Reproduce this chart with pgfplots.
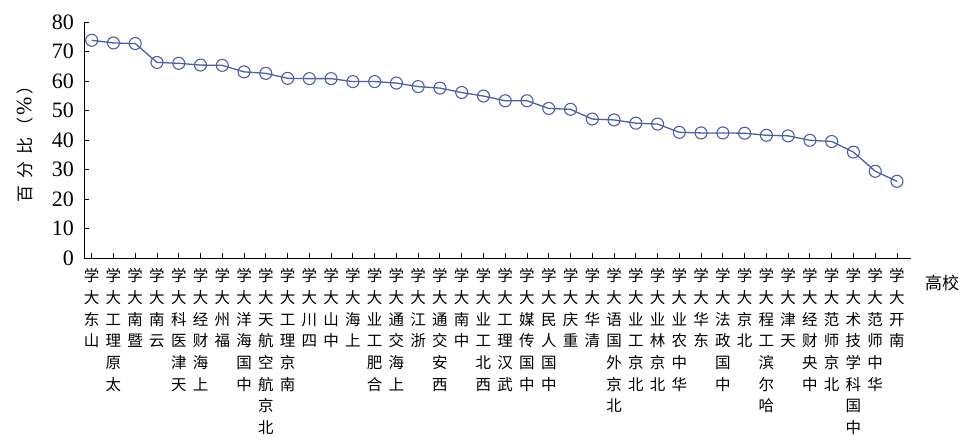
\documentclass[border=0pt]{standalone}
\usepackage{fontspec}
\setmainfont{Liberation Serif}
\newfontfamily\cjk{Noto Sans CJK SC}
\usepackage{pgfplots}
\pgfplotsset{compat=1.18}
\usetikzlibrary{calc}
\definecolor{lineblue}{RGB}{76,94,168}
\begin{document}
\begin{tikzpicture}
\begin{axis}[
  scale only axis,
  width=826.4pt, height=236pt,
  xmin=-0.34, xmax=37.63,
  ymin=0, ymax=80,
  axis lines=left,
  axis line style={-, line width=1pt, black},
  tick align=inside,
  major tick length=5pt,
  tick style={black, line width=0.9pt},
  ytick={0,10,...,80},
  xtick={0,...,37},
  xticklabels={
    {学\\大\\东\\山},
    {学\\大\\工\\理\\原\\太},
    {学\\大\\南\\暨},
    {学\\大\\南\\云},
    {学\\大\\科\\医\\津\\天},
    {学\\大\\经\\财\\海\\上},
    {学\\大\\州\\福},
    {学\\大\\洋\\海\\国\\中},
    {学\\大\\天\\航\\空\\航\\京\\北},
    {学\\大\\工\\理\\京\\南},
    {学\\大\\川\\四},
    {学\\大\\山\\中},
    {学\\大\\海\\上},
    {学\\大\\业\\工\\肥\\合},
    {学\\大\\通\\交\\海\\上},
    {学\\大\\江\\浙},
    {学\\大\\通\\交\\安\\西},
    {学\\大\\南\\中},
    {学\\大\\业\\工\\北\\西},
    {学\\大\\工\\理\\汉\\武},
    {学\\大\\媒\\传\\国\\中},
    {学\\大\\民\\人\\国\\中},
    {学\\大\\庆\\重},
    {学\\大\\华\\清},
    {学\\大\\语\\国\\外\\京\\北},
    {学\\大\\业\\工\\京\\北},
    {学\\大\\业\\林\\京\\北},
    {学\\大\\业\\农\\中\\华},
    {学\\大\\华\\东},
    {学\\大\\法\\政\\国\\中},
    {学\\大\\京\\北},
    {学\\大\\程\\工\\滨\\尔\\哈},
    {学\\大\\津\\天},
    {学\\大\\经\\财\\央\\中},
    {学\\大\\范\\师\\京\\北},
    {学\\大\\术\\技\\学\\科\\国\\中},
    {学\\大\\范\\师\\中\\华},
    {学\\大\\开\\南}},
  xticklabel style={align=center, anchor=north, font=\cjk\fontsize{15.5}{21.7}\selectfont, yshift=-7pt},
  /pgf/number format/assume math mode=true,
  yticklabel style={font=\fontsize{22}{22}\selectfont, xshift=-7pt},
  ylabel={百\hspace{7pt}分\hspace{7pt}比\hspace{3pt}（\hspace{2pt}{\rmfamily\fontsize{22}{22}\selectfont\%}\hspace{2pt}）},
  ylabel style={at={(axis description cs:-0.0718,0.5)}, anchor=center, font=\cjk\fontsize{17}{17}\selectfont},
  xlabel={高校},
  xlabel style={at={(axis description cs:1.038,-0.106)}, anchor=center, font=\cjk\fontsize{17}{17}\selectfont},
  clip=false,
]
\addplot[color=lineblue, line width=1.3pt, mark=o, mark size=6pt, mark options={line width=1.1pt, fill=white}]
coordinates {
(0,73.8) (1,72.9) (2,72.7) (3,66.3) (4,66.0) (5,65.4) (6,65.3) (7,63.1)
(8,62.6) (9,60.9) (10,60.8) (11,60.8) (12,59.8) (13,59.8) (14,59.3) (15,58.1)
(16,57.6) (17,56.1) (18,54.9) (19,53.3) (20,53.3) (21,50.7) (22,50.4) (23,47.1)
(24,46.8) (25,45.7) (26,45.4) (27,42.6) (28,42.4) (29,42.4) (30,42.3) (31,41.6)
(32,41.4) (33,39.9) (34,39.5) (35,35.9) (36,29.4) (37,26.0)
};
\end{axis}
\pgfresetboundingbox
\path[use as bounding box] ($(current axis.south west)+(-84.3pt,-189pt)$) rectangle ++(975pt,447pt);
\end{tikzpicture}
\end{document}
